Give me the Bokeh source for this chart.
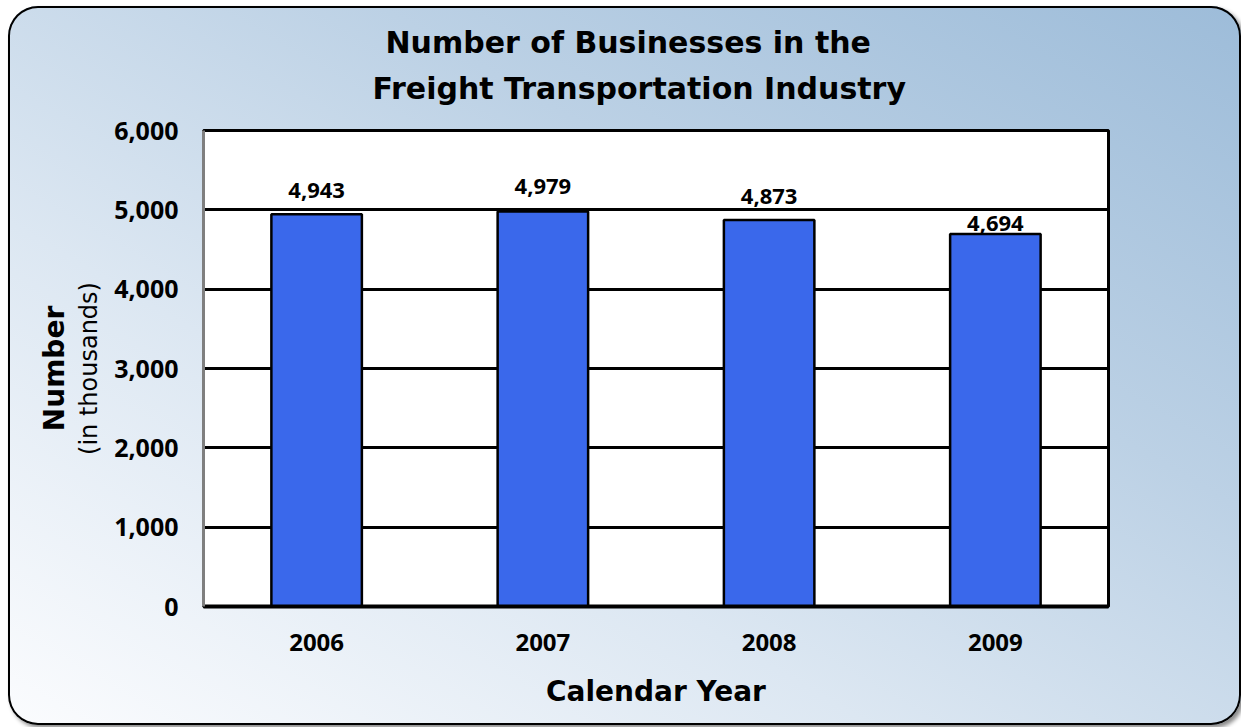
from bokeh.plotting import figure
from bokeh.models import ColumnDataSource, Range1d, LinearAxis, Title, FixedTicker, NumeralTickFormatter
from bokeh.core.properties import value
from bokeh.embed import file_html
from bokeh.resources import INLINE

# ---- data ----
years = ["2006", "2007", "2008", "2009"]
businesses = [4943, 4979, 4873, 4694]
value_labels = ["4,943", "4,979", "4,873", "4,694"]
y_ticks = [0, 1000, 2000, 3000, 4000, 5000, 6000]

# ---- styles ----
label_dy_px = [-24, -25, -23, -11]
NUMFONT = "Open Sans"
WORDFONT = "DejaVu Sans"
BAR_COLOR = "#3a68eb"

source = ColumnDataSource(dict(year=years, n=businesses, lab=value_labels, dy=label_dy_px))

p = figure(
    x_range=years,
    y_range=Range1d(0, 6000),
    width=1233, height=719,
    output_backend="svg", toolbar_location=None,
    min_border_left=195, min_border_right=133,
    min_border_top=124, min_border_bottom=119,
)
p.title = None
p.border_fill_color = None
p.background_fill_color = "white"
p.outline_line_color = "black"
p.outline_line_width = 3
p.styles = {
    "margin-left": "8px",
    "margin-top": "6px",
    "background": "linear-gradient(to top right, #fbfcfe 0%, #dce7f2 35%, #bcd1e5 65%, #9dbcd9 100%)",
    "border-radius": "30px",
    "box-shadow": "inset 0 0 0 2px #000000, 3px 3px 4px #8a8a8a",
}

p.vbar(x="year", top="n", width=0.4, source=source,
       fill_color=BAR_COLOR, line_color="black", line_width=2.5)

p.text(x="year", y="n", text="lab", source=source, y_offset="dy",
       text_align="center", text_baseline="alphabetic",
       text_font=value(NUMFONT), text_font_style="bold", text_font_size="22px",
       text_color="black")

# grid
p.xgrid.grid_line_color = None
p.ygrid.grid_line_color = "black"
p.ygrid.grid_line_width = 3
p.ygrid.ticker = FixedTicker(ticks=y_ticks)

# y axis
ya = p.yaxis[0]
ya.ticker = FixedTicker(ticks=y_ticks)
ya.formatter = NumeralTickFormatter(format="0,0")
ya.axis_line_color = "#7f7f7f"
ya.axis_line_width = 3
ya.major_tick_line_color = None
ya.minor_tick_line_color = None
ya.major_label_standoff = 19
ya.major_label_text_font = NUMFONT
ya.major_label_text_font_style = "bold"
ya.major_label_text_font_size = "25px"
ya.major_label_text_color = "black"
ya.axis_label = "(in thousands)"
ya.axis_label_text_font = WORDFONT
ya.axis_label_text_font_style = "normal"
ya.axis_label_text_font_size = "24px"
ya.axis_label_text_color = "black"
ya.axis_label_standoff = 8

# outer y axis carrying the main label
ya2 = LinearAxis(ticker=FixedTicker(ticks=[]), axis_label="Number")
ya2.axis_line_color = None
ya2.major_tick_line_color = None
ya2.minor_tick_line_color = None
ya2.major_label_text_font_size = "0px"
ya2.axis_label_standoff = 2
ya2.axis_label_text_font = WORDFONT
ya2.axis_label_text_font_style = "bold"
ya2.axis_label_text_font_size = "28px"
ya2.axis_label_text_color = "black"
p.add_layout(ya2, "left")

# x axis
xa = p.xaxis[0]
xa.axis_line_color = "black"
xa.axis_line_width = 4
xa.major_tick_line_color = None
xa.minor_tick_line_color = None
xa.major_label_standoff = 21
xa.major_label_text_font = NUMFONT
xa.major_label_text_font_style = "bold"
xa.major_label_text_font_size = "24px"
xa.major_label_text_color = "black"
xa.axis_label = "Calendar Year"
xa.axis_label_text_font = WORDFONT
xa.axis_label_text_font_style = "bold"
xa.axis_label_text_font_size = "28px"
xa.axis_label_text_color = "black"
xa.axis_label_standoff = 21

# two-line title (inner line added first)
for txt, off, so in [("Freight Transportation Industry", 169, 50),
                     ("Number of Businesses in the", 182, -32)]:
    t = Title(text=txt, align="left", offset=off, standoff=so,
              text_font=WORDFONT, text_font_style="bold", text_font_size="30px",
              text_color="black")
    p.add_layout(t, "above")

open("out.html", "w").write(file_html(p, INLINE))
